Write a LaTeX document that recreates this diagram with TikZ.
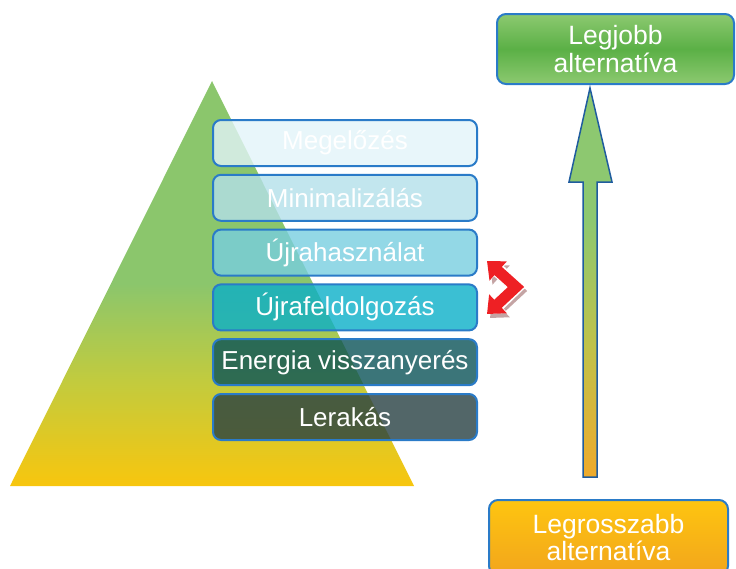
\documentclass[tikz,border=0pt]{standalone}
\usepackage{fontspec}
\setmainfont{Liberation Sans}
\usetikzlibrary{positioning,arrows.meta}

\definecolor{pyrGreen}{HTML}{8BC66C}
\definecolor{pyrMid}{HTML}{C2CB3E}
\definecolor{pyrYellow}{HTML}{F8C60E}
\definecolor{boxEdge}{HTML}{2A7BC8}
\definecolor{stepA}{HTML}{E2F4F9}
\definecolor{stepB}{HTML}{B3E0EA}
\definecolor{stepC}{HTML}{78CEE0}
\definecolor{stepD}{HTML}{0AAFC8}
\definecolor{stepE}{HTML}{0A5357}
\definecolor{stepF}{HTML}{274042}
\definecolor{bestLight}{HTML}{8CC970}
\definecolor{bestDark}{HTML}{5BB046}
\definecolor{worstTop}{HTML}{FEC510}
\definecolor{worstBottom}{HTML}{F2A51C}
\definecolor{arrowEdge}{HTML}{1F5C9E}
\definecolor{arrowGreen}{HTML}{8DC870}
\definecolor{arrowMid}{HTML}{BFC24A}
\definecolor{arrowOrange}{HTML}{EEAA2C}
\definecolor{turnRed}{HTML}{EE2024}
\definecolor{turnShadow}{HTML}{C4A4A4}

\pgfdeclareverticalshading{pyramid}{100bp}{color(0bp)=(pyrYellow); color(25bp)=(pyrYellow); color(38bp)=(pyrMid); color(50bp)=(pyrGreen); color(100bp)=(pyrGreen)}
\pgfdeclareverticalshading{upshaft}{100bp}{color(0bp)=(arrowOrange); color(25bp)=(arrowOrange); color(42bp)=(arrowMid); color(58bp)=(arrowGreen); color(100bp)=(arrowGreen)}

\begin{document}
\begin{tikzpicture}[x=1pt,y=-1pt,
    stepbox/.style={draw=boxEdge, line width=2pt, rounded corners=8pt,
      fill opacity=0.8, text opacity=1, text=white,
      minimum width=264pt, minimum height=46pt,
      font=\fontsize{26}{30}\selectfont},
    endbox/.style={draw=boxEdge, line width=2pt, rounded corners=9pt,
      text=white, align=center, font=\fontsize{26.5}{27.5}\selectfont},
    turnline/.style={line width=11pt, line join=miter,
      {Triangle[width=25pt,length=15pt]}-{Triangle[width=25pt,length=15pt]}}]
  \useasboundingbox (0,0) rectangle (736,568);

  % pyramid
  \shade[shading=pyramid] (212,81) -- (414,486) -- (10,486) -- cycle;

  % steps of the hierarchy
  \node[stepbox, fill=stepA] (prevent) at (345,143) {Megelőzés};
  \node[stepbox, fill=stepB, below=6.8pt of prevent] (minimise) {Minimalizálás};
  \node[stepbox, fill=stepC, below=6.8pt of minimise] (reuse) {Újrahasználat};
  \node[stepbox, fill=stepD, below=6.8pt of reuse] (recycle) {Újrafeldolgozás};
  \node[stepbox, fill=stepE, below=6.8pt of recycle] (recover) {Energia visszanyerés};
  \node[stepbox, fill=stepF, below=6.8pt of recover] (dispose) {Lerakás};

  % best and worst
  \node[endbox, top color=bestLight, bottom color=bestLight, middle color=bestDark,
    minimum width=237pt, minimum height=70pt] (best) at (615.5,49) {Legjobb\\alternatíva};
  \node[endbox, top color=worstTop, bottom color=worstBottom,
    minimum width=239pt, minimum height=75pt] (worst) at (608.5,537.5) {Legrosszabb\\alternatíva};

  % big arrow
  \draw[draw=arrowEdge, line width=1.5pt, line join=miter, shading=upshaft]
    (583,477) -- (583,182) -- (569,182) -- (590,88) -- (612,182)
    -- (597,182) -- (597,477) -- cycle;

  % turning arrow
  \coordinate (turnUp) at (487,261);
  \coordinate (turnBend) at (516,287);
  \coordinate (turnDown) at (487,314);
  \draw[turnline, turnShadow]
    ([shift={(3,4)}]turnUp) -- ([shift={(3,4)}]turnBend) -- ([shift={(3,4)}]turnDown);
  \draw[turnline, white, line width=14pt]
    ([shift={(1,0)}]turnUp) -- (turnBend) -- ([shift={(1,0)}]turnDown);
  \draw[turnline, turnRed] (turnUp) -- (turnBend) -- (turnDown);
\end{tikzpicture}
\end{document}
